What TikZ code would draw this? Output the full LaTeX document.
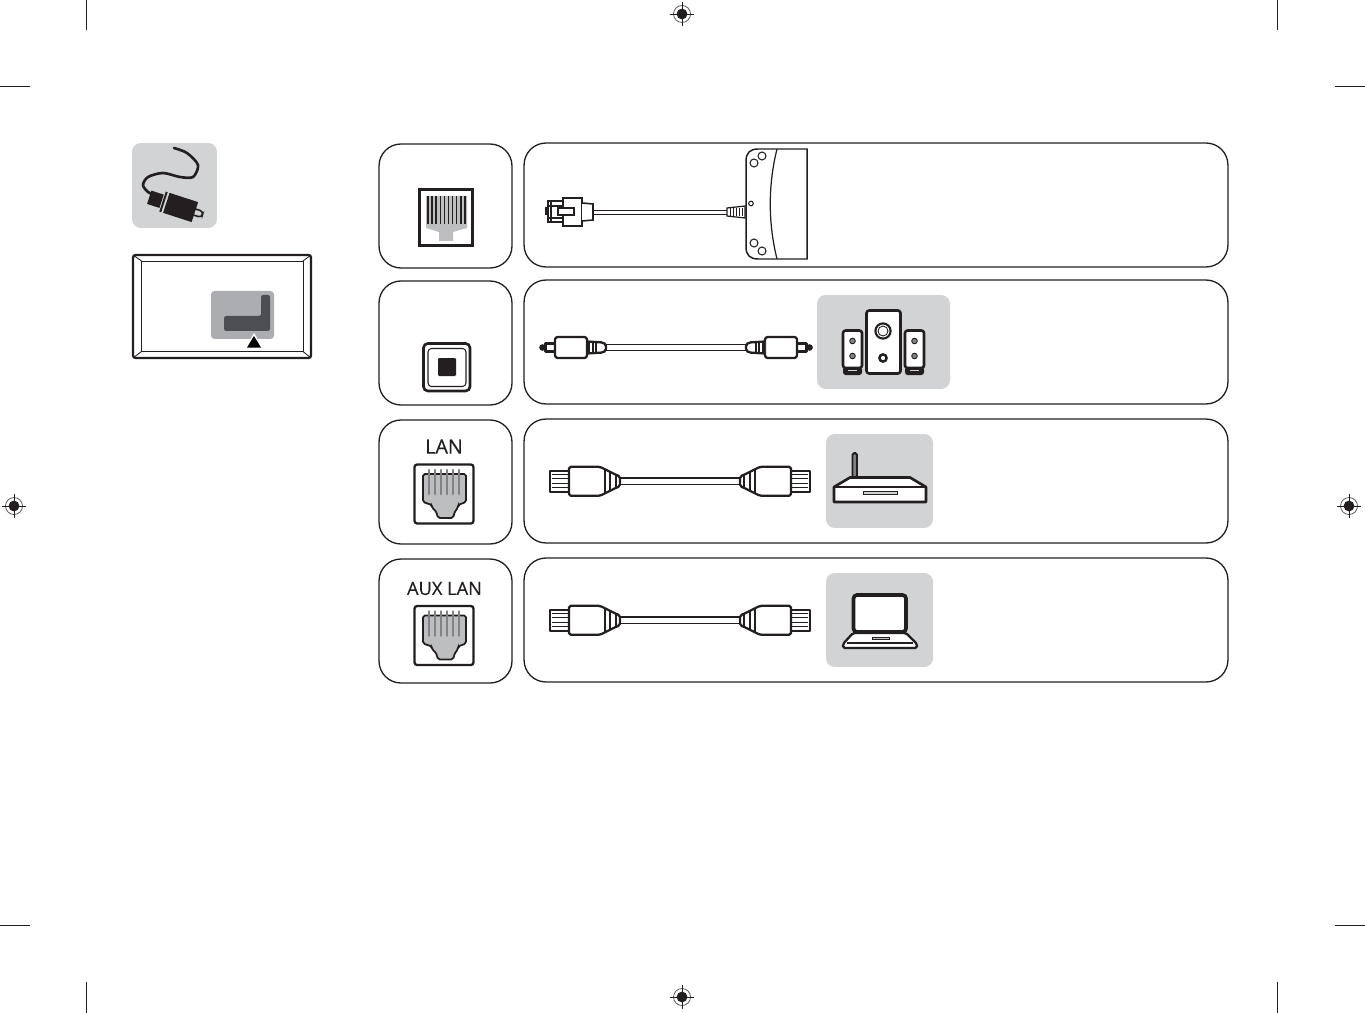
\documentclass[tikz,border=0pt]{standalone}
\usepackage{fontspec}
\newfontfamily\labelfont[FakeBold=0.35]{Open Sans}
\usetikzlibrary{calc}
\definecolor{inkblack}{HTML}{231F20}
\definecolor{iconbg}{HTML}{D1D3D4}
\definecolor{portgrey}{HTML}{BCBEC0}
\definecolor{pingrey}{HTML}{808285}
\definecolor{slotbg}{HTML}{ABADB0}
\definecolor{slotdark}{HTML}{4D4E52}
\tikzset{
  panel/.style={draw=inkblack, line width=0.75pt, rounded corners=12.5pt, inner sep=0pt, fill=white},
  iconbox/.style={fill=iconbg, rounded corners=5pt, inner sep=0pt},
  cable/.style={draw=inkblack, line width=0.85pt, double=white, double distance=2.8pt},
  thinline/.style={draw=inkblack, line width=0.7pt},
  thickline/.style={draw=inkblack, line width=1.3pt, line join=round},
  portlabel/.style={labelfont, inkblack, inner sep=0pt},
  labelfont/.style={font=\labelfont\fontsize{10.4}{12}\selectfont},
  pics/regmark/.style={code={
    \draw[pingrey!70!black, line width=0.45pt] (0,0) circle (8.5);
    \fill[inkblack] (0,0) circle (5.4);
    \draw[inkblack, line width=0.55pt] (-12,0) -- (12,0) (0,-12) -- (0,12);
  }},
  pics/lanjack/.style={code={
    \draw[inkblack, line width=1.3pt, fill=white, rounded corners=1.5pt] (-29.5,-29.5) rectangle (29.5,29.5);
    \draw[inkblack, line width=1pt, fill=portgrey, rounded corners=1pt] (-21,-20) -- (22,-20) -- (22,8) -- (14,11) -- (14,14) -- (11,17)
      -- (9,24) -- (-6,24) -- (-8,17) -- (-12,14) -- (-12,11) -- (-21,8) -- cycle;
    \foreach \x in {-15,-9,-3,3,9,15}{ \draw[pingrey, line width=1.6pt, line cap=round] (\x,-24) -- (\x,0); }
  }},
  pics/lanplug/.style={code={
    \draw[thickline, fill=white] (19,-10.5) -- (0,-10.5) -- (0,10.5) -- (19,10.5);
    \foreach \y in {-6.5,-2.5,2.5,6.5}{ \draw[thinline] (2,\y) -- (19,\y); }
    \draw[thickline, fill=white, rounded corners=1pt] (19,-14.5) -- (50,-14.5) -- (67,-6) -- (70,-5)
      -- (70,5) -- (67,6) -- (50,14.5) -- (19,14.5) -- cycle;
    \foreach \x/\h in {55/12, 60/9.5, 66/6.5}{ \draw[thinline] (\x,-\h) -- (\x,\h); }
  }},
  pics/optoplug/.style={code={
    \fill[inkblack] (3.5,0) circle (3.3);
    \draw[thickline, fill=white] (16,-4) -- (6.5,-4) -- (6.5,4) -- (16,4);
    \draw[thickline, fill=white, rounded corners=1.5pt] (16,-10.5) rectangle (48,10.5);
    \draw[thickline, fill=white, rounded corners=1pt] (48,-6) -- (64,-5) -- (67,-3) -- (67,3) -- (64,5) -- (48,6);
    \fill[inkblack] (48,-6) rectangle (51,6);
    \draw[thinline] (54,-5.5) -- (54,5.5) (57,-5.5) -- (57,5.5);
  }},
}
\begin{document}
\begin{tikzpicture}[x=0.02cm, y=-0.02cm]
  \fill[white] (0,0) rectangle (1365,1013);
  \useasboundingbox (0,0) rectangle (1365,1013);
  % crop marks
  \foreach \x in {86,1277}{
    \draw[thinline, line width=0.4pt] (\x,0) -- (\x,30);
    \draw[thinline, line width=0.4pt] (\x,982) -- (\x,1013);
  }
  \foreach \y in {86,925}{
    \draw[thinline, line width=0.4pt] (0,\y) -- (30,\y);
    \draw[thinline, line width=0.4pt] (1335,\y) -- (1365,\y);
  }
  \foreach \x/\y in {682/14, 14/506, 1349/506, 682/997}{ \pic at (\x,\y) {regmark}; }

  % cable icon
  \node[iconbox, minimum width=1.7cm, minimum height=1.7cm] (cableicon) at (174.5,185.5) {};
  \draw[inkblack, line width=1.5pt, line cap=round] plot[smooth] coordinates {(174,148) (187,153) (198,165) (193,177) (180,177) (163,173) (148,177) (143,185) (148,192) (155,195)};
  \begin{scope}[shift={(173,205)}, rotate=-18]
    \draw[inkblack, line width=0.9pt, rounded corners=2pt] (20,-3.2) -- (31,-3.2) -- (31,3.2) -- (20,3.2);
    \fill[inkblack] (-25,-7) rectangle (-12,7);
    \fill[inkblack] (-11,-10.5) rectangle (-9,10.5);
    \fill[inkblack] (-7,-10.5) rectangle (23,10.5);
  \end{scope}

  % tv back
  \draw[inkblack, line width=1.3pt, rounded corners=1.5pt] (133,255) rectangle (311,358);
  \draw[inkblack, line width=0.5pt] (141.5,261) rectangle (303,351.5);
  \draw[inkblack, line width=0.5pt] (133,255) -- (141.5,261) (311,255) -- (303,261) (133,358) -- (141.5,351.5) (311,358) -- (303,351.5);
  \fill[slotbg, rounded corners=2pt] (211,291) rectangle (274,339);
  \fill[slotdark, rounded corners=1.2pt] (224,316) -- (261,316) -- (261,295) -- (270,295) -- (270,331) -- (224,331) -- cycle;
  \fill[white] (254,333) -- (245,348) -- (263,348) -- cycle;
  \fill[black] (254,336) -- (247,347.5) -- (261,347.5) -- cycle;

  % port panels
  \foreach \n/\y in {a/206, b/343, c/482, d/621}{
    \node[panel, minimum width=2.66cm, minimum height=2.48cm] (port\n) at (445.5,\y) {};
    \node[panel, minimum width=14.08cm, minimum height=2.48cm] (link\n) at (876,{\y-1}) {};
  }

  % service port
  \draw[inkblack, line width=1.6pt, fill=white] (419.5,189.5) rectangle (472.5,245.5);
  \fill[portgrey] (426,196) -- (467,196) -- (467,228) -- (453,232) -- (453,241) -- (439,241) -- (439,232) -- (426,228) -- cycle;
  \foreach \i in {0,...,9}{ \draw[inkblack, line width=0.85pt] ({428+\i*4.1},196) -- ({428+\i*4.1},224); }

  \coordinate (rsA) at (592,212.5);
  \coordinate (rsB) at (728,212.5);
  \draw[inkblack, line width=0.8pt, double=white, double distance=1.6pt] (rsA) -- (rsB);
  \draw[thinline, line width=0.9pt, fill=white] (548,201) rectangle (563,222);
  \fill[inkblack] (545,207) rectangle (549,215);
  \draw[thinline] (551,201) -- (551,222) (548,206) -- (563,206) (548,218) -- (563,218);
  \draw[thinline, line width=0.9pt, fill=white] (563,198) rectangle (582,226);
  \draw[thinline, line width=0.9pt, fill=white] (582,203) -- (593,204) -- (593,220) -- (582,221);
  \draw[thinline, fill=white] (558,208) rectangle (574,215);
  \draw[thinline, fill=white] (727,208) -- (745,206) -- (745,218) -- (727,216) -- cycle;
  \foreach \x in {730,733,736,739,742}{ \draw[thinline, line width=0.5pt] (\x,208) -- (\x,216); }

  \draw[thinline, line width=0.85pt, fill=white] (807,149) -- (758,149) .. controls (750,149) and (746,153) .. (746,161)
    -- (746,247) .. controls (746,255) and (750,259) .. (758,259) -- (807,259) -- cycle;
  \draw[thinline] (777,149) .. controls (768,185) and (768,223) .. (777,259);
  \foreach \x/\y in {762/156, 754/163, 754/243, 762/251}{ \draw[thinline, line width=0.6pt] (\x,\y) circle (4); }
  \draw[thinline, line width=0.6pt] (751,203.5) circle (2.3);

  % optical port
  \draw[inkblack, line width=1.5pt, fill=white, rounded corners=2.5pt] (423.5,343.5) rectangle (470,391);
  \draw[inkblack, line width=0.6pt, rounded corners=2pt] (428,348.5) rectangle (466,386.5);
  \fill[inkblack, rounded corners=0.6pt] (438,358) rectangle (456,376);

  \coordinate (optA) at (604,347.5);
  \coordinate (optB) at (748,347.5);
  \draw[cable] (optA) -- (optB);
  \pic at (539,347.5) {optoplug};
  \pic[xscale=-1] at (813,347.5) {optoplug};

  % speakers
  \node[iconbox, minimum width=2.66cm, minimum height=1.88cm] (speakericon) at (883.5,342) {};
  \draw[thickline, line width=1.5pt, fill=white, rounded corners=1.5pt] (866.5,310.5) rectangle (900.5,373.5);
  \draw[inkblack, line width=1.2pt] (883,331) circle (7.6);
  \draw[inkblack, line width=0.5pt] (883,331) circle (5);
  \draw[inkblack, line width=1.4pt] (883,358) circle (3.6);
  \foreach \x in {843,905}{
    \fill[inkblack, rounded corners=1.5pt] (\x,367) rectangle ({\x+19},375);
    \fill[iconbg] ({\x+5},369.5) rectangle ({\x+14},371);
    \draw[thickline, line width=1.5pt, fill=white, rounded corners=1.5pt] (\x,330.5) rectangle ({\x+19},368);
    \foreach \y in {341,356}{
      \fill[pingrey] ({\x+9.5},\y) circle (2.8);
      \draw[inkblack, line width=0.5pt] ({\x+9.5},\y) circle (2.8);
    }
  }

  % lan rows
  \foreach \n/\y/\w in {c/481.3/lan, d/620.3/aux}{
    \coordinate (\w A) at (618,\y);
    \coordinate (\w B) at (742,\y);
    \draw[cable] (\w A) -- (\w B);
    \pic at (550,\y) {lanplug};
    \pic[xscale=-1] at (810,\y) {lanplug};
  }
  \node[portlabel, font=\labelfont\fontsize{11.2}{12}\selectfont] (lanlabel) at (444,446.5) {LAN};
  \node[portlabel] (auxlabel) at (444.5,588.5) {AUX LAN};
  \pic at (444,494) {lanjack};
  \pic at (444,635.5) {lanjack};

  % router
  \node[iconbox, minimum width=2.14cm, minimum height=1.88cm] (routericon) at (879.5,481) {};
  \draw[inkblack, line width=1.1pt, fill=pingrey, rounded corners=1pt] (852.5,477) -- (852.5,453) -- (857,453) -- (857,477);
  \draw[thickline, line width=1.5pt, fill=white] (834,487) -- (850,477.5) -- (910,477.5) -- (926,487) -- (926,502) -- (834,502) -- cycle;
  \draw[thinline, line width=1pt] (834,487) -- (926,487);
  \draw[inkblack, line width=0.5pt, fill=iconbg] (863,491) rectangle (897,494);

  % laptop
  \node[iconbox, minimum width=2.14cm, minimum height=1.88cm] (laptopicon) at (879.5,620) {};
  \draw[inkblack, line width=2.1pt, fill=white, rounded corners=2pt] (853.5,595) rectangle (906,632);
  \draw[thickline, fill=white, rounded corners=1pt] (853,633) -- (906,633) -- (917,644) -- (917,648) -- (843,648) -- (843,644) -- cycle;
  \draw[inkblack, line width=0.7pt] (847,643) -- (913,643);
  \draw[inkblack, line width=0.5pt, fill=portgrey] (872,637) rectangle (889,639);
\end{tikzpicture}
\end{document}
